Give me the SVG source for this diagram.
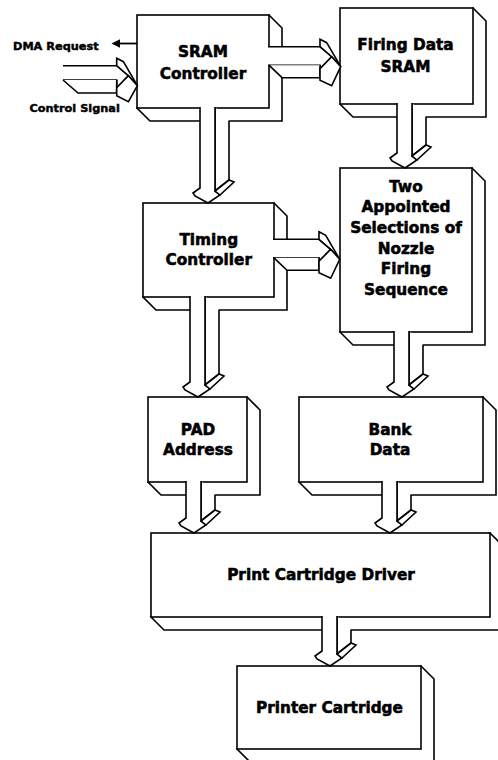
<svg xmlns="http://www.w3.org/2000/svg" width="498" height="760" viewBox="0 0 498 760">
<style>
.s{fill:#fff;stroke:#000;stroke-width:1.6;stroke-linejoin:miter}
.t{font-family:"DejaVu Sans","Liberation Sans",sans-serif;font-weight:bold;font-size:15.3px;fill:#000;stroke:#000;stroke-width:0.55;text-anchor:middle}
.sm{font-size:11.3px;stroke-width:0.45;text-anchor:start}
.ln{fill:none;stroke:#000;stroke-width:1.8}
</style>
<rect width="498" height="760" fill="#fff"/>

<g id="sram-controller">
<path class="s" d="M269,15 L282,28 V121 H150 L137,108 Z"/>
<rect class="s" x="137" y="15" width="132" height="93"/>
<text class="t" x="203" y="57">SRAM</text>
<text class="t" x="203" y="78.5">Controller</text>
</g>

<g id="firing-data-sram">
<path class="s" d="M473,8 L486,21 V117 H353 L340,104 Z"/>
<rect class="s" x="340" y="8" width="133" height="96"/>
<text class="t" x="405.5" y="50">Firing Data</text>
<text class="t" x="405.5" y="71.7">SRAM</text>
</g>

<g id="timing-controller">
<path class="s" d="M274,203 L287,216 V310 H156 L143,297 Z"/>
<rect class="s" x="143" y="203" width="131" height="94"/>
<text class="t" x="208.8" y="245">Timing</text>
<text class="t" x="208.8" y="265">Controller</text>
</g>

<g id="nozzle-sequence">
<path class="s" d="M472,168 L485,181 V345 H353 L340,332 Z"/>
<rect class="s" x="340" y="168" width="132" height="164"/>
<text class="t" x="406" y="191.5">Two</text>
<text class="t" x="406" y="212.2">Appointed</text>
<text class="t" x="406" y="232.9">Selections of</text>
<text class="t" x="406" y="253.6">Nozzle</text>
<text class="t" x="406" y="274.3">Firing</text>
<text class="t" x="406" y="295">Sequence</text>
</g>

<g id="pad-address">
<path class="s" d="M247,397 L260,410 V495 H161 L148,482 Z"/>
<rect class="s" x="148" y="397" width="99" height="85"/>
<text class="t" x="198" y="435">PAD</text>
<text class="t" x="198" y="455">Address</text>
</g>

<g id="bank-data">
<path class="s" d="M483,397 L496,410 V495 H312 L299,482 Z"/>
<rect class="s" x="299" y="397" width="184" height="85"/>
<text class="t" x="390" y="434.5">Bank</text>
<text class="t" x="390" y="455">Data</text>
</g>

<g id="print-cartridge-driver">
<path class="s" d="M490,533 L503,546 V630 H164 L151,617 Z"/>
<rect class="s" x="151" y="533" width="339" height="84"/>
<text class="t" x="321" y="580">Print Cartridge Driver</text>
</g>

<g id="printer-cartridge">
<path class="s" d="M421,666 L434,679 V762 H250 L237,749 Z"/>
<rect class="s" x="237" y="666" width="184" height="83"/>
<text class="t" x="329.5" y="712.7">Printer Cartridge</text>
</g>

<g id="labels">
<text class="t sm" x="13" y="50">DMA Request</text>
<text class="t sm" x="29.5" y="112">Control Signal</text>
</g>

<g id="connectors">
<!-- DMA Request arrow -->
<line class="ln" x1="137" y1="43.5" x2="118" y2="43.5"/>
<path d="M111.5,43.5 L120,39.3 L120,47.7 Z" fill="#000"/>

<!-- Control signal -> SRAM Controller -->
<g transform="translate(116.7,65.7)">
<path class="s" d="M-53.7,0 H0 L11.7,10 L0,22 V14.3 H-53.7"/>
<path class="s" d="M-53.7,14.3 L-38.7,27.3 H0 V14.3"/>
<path class="s" d="M0,-7.5 L6.7,-4 L20.7,20 L11.7,10 L0,0 Z"/>
<path class="s" d="M0,22 L11.7,10 L20.7,20 L11.7,36 L0,30 Z"/>
</g>

<!-- SRAM Controller -> Firing Data SRAM -->
<g transform="translate(320,46.7)">
<path class="s" d="M-52,0 H0 L11.7,10 L0,22 V18.5 H-52"/>
<path class="s" d="M-51,18.5 L-38,31 H0 V18.5"/>
<path class="s" d="M0,-7.5 L6.7,-4 L20.7,20 L11.7,10 L0,0 Z"/>
<path class="s" d="M0,22 L11.7,10 L20.7,20 L11.7,39 L0,33.5 Z"/>
</g>

<!-- Timing Controller -> Nozzle sequence -->
<g transform="translate(319,239.3)">
<path class="s" d="M-46,0 H0 L11.7,10 L0,22 V18.5 H-46"/>
<path class="s" d="M-45,18.5 L-32,31 H0 V18.5"/>
<path class="s" d="M0,-7.5 L6.7,-4 L20.7,20 L11.7,10 L0,0 Z"/>
<path class="s" d="M0,22 L11.7,10 L20.7,20 L11.7,39 L0,33.5 Z"/>
</g>

<!-- SRAM Controller -> Timing Controller -->
<g transform="translate(200,188)">
<path class="s" d="M29,-67 V-8 L15,3 V-81"/>
<path class="s" d="M0,-81 V0 L-7,5 L-5,8 L8,15 L20,7 L15,3 V-81"/>
<path class="s" d="M15,3 L29,-8 L34,-6 L20,7 Z"/>
</g>

<!-- Firing Data SRAM -> Nozzle sequence -->
<g transform="translate(397,153)">
<path class="s" d="M29,-36 V-8 L15,3 V-50"/>
<path class="s" d="M0,-50 V0 L-7,5 L-5,8 L8,15 L20,7 L15,3 V-50"/>
<path class="s" d="M15,3 L29,-8 L34,-6 L20,7 Z"/>
</g>

<!-- Timing Controller -> PAD Address -->
<g transform="translate(190,382)">
<path class="s" d="M29,-72 V-8 L15,3 V-86"/>
<path class="s" d="M0,-86 V0 L-7,5 L-5,8 L8,15 L20,7 L15,3 V-86"/>
<path class="s" d="M15,3 L29,-8 L34,-6 L20,7 Z"/>
</g>

<!-- Nozzle sequence -> Bank Data -->
<g transform="translate(394,382)">
<path class="s" d="M29,-37 V-8 L15,3 V-51"/>
<path class="s" d="M0,-51 V0 L-7,5 L-5,8 L8,15 L20,7 L15,3 V-51"/>
<path class="s" d="M15,3 L29,-8 L34,-6 L20,7 Z"/>
</g>

<!-- PAD Address -> Print Cartridge Driver -->
<g transform="translate(186,518)">
<path class="s" d="M29,-23 V-8 L15,3 V-37"/>
<path class="s" d="M0,-37 V0 L-7,5 L-5,8 L8,15 L20,7 L15,3 V-37"/>
<path class="s" d="M15,3 L29,-8 L34,-6 L20,7 Z"/>
</g>

<!-- Bank Data -> Print Cartridge Driver -->
<g transform="translate(382,518)">
<path class="s" d="M29,-23 V-8 L15,3 V-37"/>
<path class="s" d="M0,-37 V0 L-7,5 L-5,8 L8,15 L20,7 L15,3 V-37"/>
<path class="s" d="M15,3 L29,-8 L34,-6 L20,7 Z"/>
</g>

<!-- Print Cartridge Driver -> Printer Cartridge -->
<g transform="translate(322,651)">
<path class="s" d="M29,-21 V-8 L15,3 V-35"/>
<path class="s" d="M0,-35 V0 L-7,5 L-5,8 L8,15 L20,7 L15,3 V-35"/>
<path class="s" d="M15,3 L29,-8 L34,-6 L20,7 Z"/>
</g>
</g>
</svg>
